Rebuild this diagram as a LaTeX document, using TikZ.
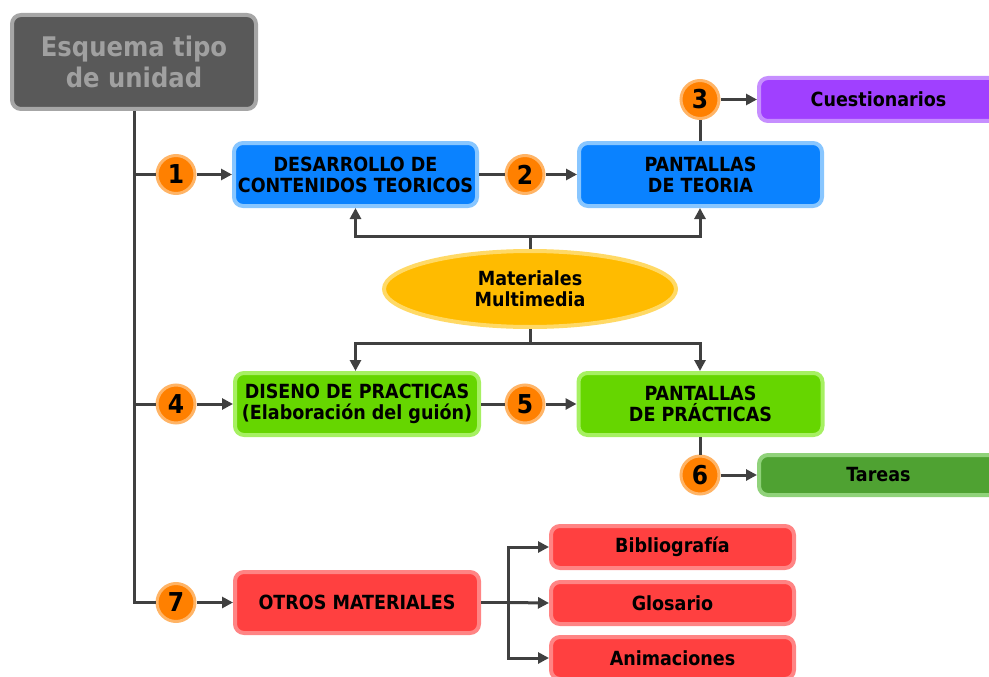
\documentclass[tikz,border=0pt]{standalone}
\usepackage{fontspec}
\setmainfont{DejaVu Sans Condensed}[BoldFont={DejaVu Sans Condensed Bold}]
\usetikzlibrary{arrows.meta,shapes.geometric}
\definecolor{grayF}{HTML}{595959}
\definecolor{grayB}{HTML}{A6A6A6}
\definecolor{grayT}{HTML}{A0A0A0}
\definecolor{blueF}{HTML}{0A82FF}
\definecolor{blueB}{HTML}{88C6FF}
\definecolor{orF}{HTML}{FF8000}
\definecolor{orB}{HTML}{FFB466}
\definecolor{purF}{HTML}{A040FF}
\definecolor{purB}{HTML}{C68EFF}
\definecolor{yelF}{HTML}{FFBB00}
\definecolor{yelB}{HTML}{FFD966}
\definecolor{grnF}{HTML}{66D600}
\definecolor{grnB}{HTML}{A6F062}
\definecolor{tarF}{HTML}{4FA232}
\definecolor{tarB}{HTML}{90D27A}
\definecolor{redF}{HTML}{FF4040}
\definecolor{redB}{HTML}{FF8484}
\definecolor{lnC}{HTML}{404040}
\tikzset{
  boxbase/.style={rounded corners=9pt, line width=4pt, inner sep=0pt, align=center,
    font=\fontsize{19.5}{21}\selectfont\bfseries, text=black},
  bluebox/.style={boxbase, fill=blueF, draw=blueB, minimum width=243pt, minimum height=63pt},
  greenbox/.style={boxbase, fill=grnF, draw=grnB, minimum width=244pt, minimum height=62pt},
  redbox/.style={boxbase, fill=redF, draw=redB},
  numc/.style={circle, fill=orF, draw=orB, line width=3pt, minimum size=38pt, inner sep=0pt,
    font=\fontsize{26}{28}\selectfont\bfseries, text=black},
  ln/.style={draw=lnC, line width=3pt},
  arr/.style={ln, -{Triangle[length=11pt,width=11pt]}},
}
\begin{document}
\begin{tikzpicture}[x=1pt,y=-1pt]
\useasboundingbox (0,0) rectangle (989,677);
% nodes
\node[boxbase, fill=grayF, draw=grayB, minimum width=244pt, minimum height=94pt,
  font=\fontsize{27}{31}\selectfont\bfseries, text=grayT] (esq) at (134,62) {Esquema tipo\\de unidad};
\node[bluebox] (des) at (355.5,174.5) {DESARROLLO DE\\CONTENIDOS TEORICOS};
\node[bluebox] (pt) at (700.5,174.5) {PANTALLAS\\DE TEORIA};
\node[boxbase, fill=purF, draw=purB, minimum width=239pt, minimum height=43pt] (cue) at (878.5,99.5) {Cuestionarios};
\node[ellipse, fill=yelF, draw=yelB, line width=4pt, minimum width=292pt, minimum height=76pt,
  inner sep=0pt, align=center, font=\fontsize{19.5}{21}\selectfont\bfseries] (mm) at (530,289) {Materiales\\Multimedia};
\node[greenbox] (dis) at (357,404) {DISENO DE PRACTICAS\\(Elaboración del guión)};
\node[greenbox] (pp) at (700.5,404) {PANTALLAS\\DE PRÁCTICAS};
\node[boxbase, fill=tarF, draw=tarB, minimum width=239pt, minimum height=40pt] (tar) at (878.5,475) {Tareas};
\node[redbox, minimum width=244pt, minimum height=61pt] (otr) at (357,602.5) {OTROS MATERIALES};
\node[redbox, minimum width=243pt, minimum height=42pt] (bib) at (672.5,547) {Bibliografía};
\node[redbox, minimum width=243pt, minimum height=42pt] (glo) at (672.5,603) {Glosario};
\node[redbox, minimum width=243pt, minimum height=42pt] (ani) at (672.5,658) {Animaciones};
% numbers
\node[numc] (c1) at (176,174.5) {1};
\node[numc] (c2) at (525,174.5) {2};
\node[numc] (c3) at (700,99.5) {3};
\node[numc] (c4) at (176,404) {4};
\node[numc] (c5) at (525,404) {5};
\node[numc] (c6) at (700,475) {6};
\node[numc] (c7) at (176,602.5) {7};
% connectors
\draw[ln] (esq.south) |- (c7.west);
\draw[ln] (esq.south |- c1) -- (c1.west);
\draw[ln] (esq.south |- c4) -- (c4.west);
\draw[arr] (c1.east) -- (des.west);
\draw[ln] (des.east) -- (c2.west);
\draw[arr] (c2.east) -- (pt.west);
\draw[ln] (pt.north -| c3) -- (c3.south);
\draw[arr] (c3.east) -- (cue.west);
\draw[ln] (mm.north) -- ++(0,-13) coordinate (mmt);
\draw[arr] (mmt) -| (des.south);
\draw[arr] (mmt) -| (pt.south -| c3);
\draw[ln] (mm.south) -- ++(0,14) coordinate (mmb);
\draw[arr] (mmb) -| (des.south |- dis.north);
\draw[arr] (mmb) -| (pp.north -| c3);
\draw[arr] (c4.east) -- (dis.west);
\draw[ln] (dis.east) -- (c5.west);
\draw[arr] (c5.east) -- (pp.west);
\draw[ln] (pp.south -| c6) -- (c6.north);
\draw[arr] (c6.east) -- (tar.west);
\draw[arr] (c7.east) -- (otr.west);
\draw[ln] (otr.east) -- (508,602.5) coordinate (spl);
\draw[arr] (spl) |- (bib.west);
\draw[arr] (spl) -- (glo.west);
\draw[arr] (spl) |- (ani.west);
\end{tikzpicture}
\end{document}
